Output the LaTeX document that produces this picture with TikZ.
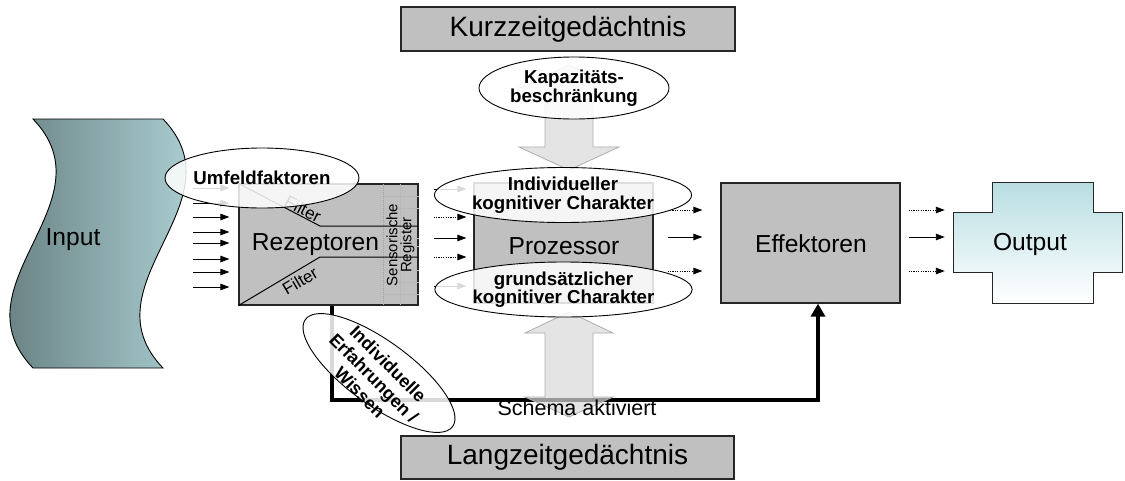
\documentclass[tikz,border=0pt]{standalone}
\usepackage{fontspec}
\setmainfont{Liberation Sans}
\usetikzlibrary{shapes.geometric,arrows.meta}
\definecolor{boxgray}{RGB}{192,192,192}
\definecolor{inL}{RGB}{88,110,112}
\definecolor{inR}{RGB}{188,226,229}
\definecolor{outT}{RGB}{184,222,226}
\begin{document}
\begin{tikzpicture}[x=1pt,y=-1pt,
  box/.style={draw=black!85, line width=1.2pt, fill=boxgray, inner sep=0pt},
  ghost/.style={inner sep=0pt, minimum width=#1},
  memtxt/.style={inner sep=0pt, font=\fontsize{28}{30}\selectfont},
  bigtxt/.style={inner sep=0pt, font=\fontsize{24.6}{26}\selectfont},
  oval/.style={ellipse, draw=black, line width=0.9pt, fill=white, fill opacity=0.85, text opacity=1,
               inner sep=0pt, align=center, font=\bfseries\fontsize{18.7}{18.5}\selectfont},
  arr/.style={line width=0.9pt, -{Triangle[length=9pt,width=6.5pt]}},
  dotarr/.style={arr, dash pattern=on 1.2pt off 1.2pt},
  blockarrow/.style={fill=gray!30, draw=gray!65, line width=0.8pt, fill opacity=0.7},
  thickline/.style={line width=4pt, -{Triangle[length=13pt,width=14pt]}},
  gridline/.style={gray!55, line width=0.4pt}
]
\useasboundingbox (0,0) rectangle (1125,480);

% Input
\shade[left color=inL, right color=inR, draw=black, line width=0.9pt]
  (33,119) -- (163,119) .. controls (243,202) and (83,285) .. (163,368)
  -- (33,368) .. controls (-47,285) and (113,202) .. (33,119) -- cycle;
\node[bigtxt] (input) at (73,240) {Input};

% memory boxes
\node[box, memtxt, minimum width=334pt, minimum height=44pt] (kzg) at (568,29) {Kurzzeitgedächtnis};
\node[box, memtxt, minimum width=333pt, minimum height=43pt] (lzg) at (567.5,457.5) {Langzeitgedächtnis};

% Rezeptoren
\node[box, minimum width=179pt, minimum height=121pt] (rez) at (328.5,244.5) {};
\foreach \yy in {196,208,238,246,270,282,294}
  \draw[gridline] (383,\yy) -- (rez.east |- 0,\yy);
\draw[gridline] (400,184) -- (400,305);
\draw[gray!75, line width=0.7pt, dash pattern=on 1pt off 1pt] (383,184) -- (383,305);
\draw[line width=1pt] (rez.north west) -- (320,226) -- (rez.east |- 0,226);
\draw[line width=1pt] (rez.south west) -- (320,257) -- (rez.east |- 0,257);
\node[inner sep=0pt, rotate=-27, font=\fontsize{17}{18}\selectfont] (filt1) at (303,209) {Filter};
\node[inner sep=0pt, rotate=30.6, font=\fontsize{17}{18}\selectfont] (filt2) at (300,281) {Filter};
\node[inner sep=0pt, rotate=90, align=center, font=\fontsize{15}{14}\selectfont] (sens) at (400.5,245) {Sensorische\\Register};
\node[bigtxt] (reztxt) at (315.5,245) {Rezeptoren};

% Prozessor, Effektoren
\node[box, minimum width=179pt, minimum height=120pt] (proc) at (563.5,243) {};
\node[bigtxt] (proctxt) at (564,246) {Prozessor};
\node[box, minimum width=179pt, minimum height=120pt] (eff) at (810.5,243) {};
\node[bigtxt] (efftxt) at (811,244) {Effektoren};

% Output
\shade[top color=outT, bottom color=white, draw=black!85, line width=0.9pt]
  (992,182) -- (1093,182) -- (1093,212) -- (1122,212) -- (1122,272) -- (1093,272)
  -- (1093,303) -- (992,303) -- (992,272) -- (953,272) -- (953,212) -- (992,212) -- cycle;
\node[inner sep=0pt, minimum width=169pt, minimum height=121pt] (outbox) at (1037.5,242.5) {};
\node[bigtxt] (outtxt) at (1030,244) {Output};

% input arrows
\foreach \yy in {188,203,217,232,243,259,272,287}
  \draw[arr, shorten >=9pt] (193,\yy) -- (rez.west |- 0,\yy);

% Rezeptoren -> Prozessor
\draw[arr, shorten <=15pt, shorten >=7pt] (rez.east |- 0,189) -- (proc.west |- 0,189);
\draw[dotarr, shorten <=15pt, shorten >=7pt] (rez.east |- 0,217) -- (proc.west |- 0,217);
\draw[arr, shorten <=15pt, shorten >=7pt] (rez.east |- 0,238) -- (proc.west |- 0,238);
\draw[dotarr, shorten <=15pt, shorten >=7pt] (rez.east |- 0,257) -- (proc.west |- 0,257);
\draw[arr, shorten <=15pt, shorten >=7pt] (rez.east |- 0,286) -- (proc.west |- 0,286);

% Prozessor -> Effektoren
\draw[dotarr, shorten <=14pt, shorten >=18pt] (proc.east |- 0,210) -- (eff.west |- 0,210);
\draw[arr, shorten <=14pt, shorten >=18pt] (proc.east |- 0,237) -- (eff.west |- 0,237);
\draw[dotarr, shorten <=14pt, shorten >=18pt] (proc.east |- 0,271) -- (eff.west |- 0,271);

% Effektoren -> Output
\draw[dotarr, shorten <=8pt, shorten >=8pt] (eff.east |- 0,210) -- (outbox.west |- 0,210);
\draw[arr, shorten <=8pt, shorten >=8pt] (eff.east |- 0,237) -- (outbox.west |- 0,237);
\draw[dotarr, shorten <=8pt, shorten >=8pt] (eff.east |- 0,271) -- (outbox.west |- 0,271);

% thick feedback line
\coordinate (bend) at (332,400);
\coordinate (effx) at (818,0);
\draw[thickline] (rez.south -| bend) -- (bend) -| (eff.south -| effx);

% block arrows
\draw[blockarrow] (569,65) -- (619,88) -- (593,88) -- (593,147) -- (619,147) -- (569,170)
  -- (519,147) -- (545,147) -- (545,88) -- (519,88) -- cycle;
\draw[blockarrow] (569,312) -- (613,333) -- (593,333) -- (593,397) -- (613,397) -- (569,417)
  -- (525,397) -- (545,397) -- (545,333) -- (525,333) -- cycle;

% ellipses
\node[oval, minimum width=190pt, minimum height=60pt] (umf) at (262,178) {Umfeldfaktoren};
\node[oval, minimum width=190pt, minimum height=62pt] (kap) at (574,88) {Kapazitäts-\\beschränkung};
\node[oval, minimum width=214pt, minimum height=55pt] (ind) at (563,195) {Individueller\\kognitiver Charakter};
\node[oval, minimum width=213pt, minimum height=55pt] (grund) at (563.5,289.5) {grundsätzlicher\\kognitiver Charakter};
\node[oval, rotate=-36, minimum width=182pt, minimum height=64pt] (erf) at (379,373) {};
\node[inner sep=0pt, rotate=-45, align=center, font=\bfseries\fontsize{18}{20}\selectfont] (erftxt) at (374,378)
  {Individuelle\\Erfahrungen /\\Wissen};

\node[inner sep=0pt, font=\fontsize{21.5}{23}\selectfont] (schema) at (577,408) {Schema aktiviert};
\end{tikzpicture}
\end{document}
